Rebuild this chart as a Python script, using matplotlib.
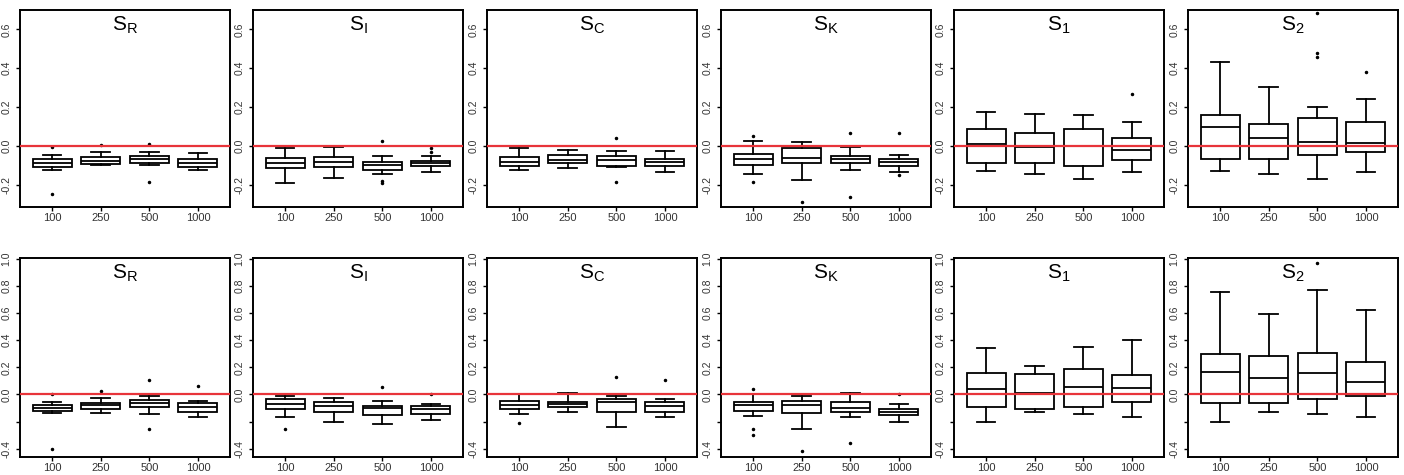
import numpy as np
import matplotlib
matplotlib.use('Agg')
import matplotlib.pyplot as plt

plt.rcParams['font.family'] = ['Liberation Sans', 'DejaVu Sans']
plt.rcParams['mathtext.fontset'] = 'custom'
plt.rcParams['mathtext.rm'] = 'Liberation Sans'
plt.rcParams['axes.unicode_minus'] = False

sizes = ['100', '250', '500', '1000']
subs = ['R', 'I', 'C', 'K', '1', '2']

# five-number summaries per sample size: whisker low, Q1, median, Q3, whisker high
top_SR = [[-0.125, -0.108, -0.088, -0.070, -0.048], [-0.100, -0.096, -0.079, -0.060, -0.031],
          [-0.101, -0.091, -0.070, -0.052, -0.033], [-0.125, -0.108, -0.088, -0.069, -0.040]]
top_SI = [[-0.194, -0.117, -0.088, -0.062, -0.014], [-0.168, -0.108, -0.082, -0.060, -0.007],
          [-0.148, -0.125, -0.100, -0.082, -0.053], [-0.134, -0.103, -0.091, -0.077, -0.053]]
top_SC = [[-0.125, -0.103, -0.082, -0.060, -0.014], [-0.117, -0.091, -0.074, -0.048, -0.022],
          [-0.108, -0.103, -0.074, -0.052, -0.027], [-0.134, -0.105, -0.086, -0.069, -0.027]]
top_SK = [[-0.146, -0.100, -0.070, -0.045, 0.024], [-0.179, -0.091, -0.065, -0.014, 0.017],
          [-0.125, -0.091, -0.070, -0.053, -0.005], [-0.137, -0.103, -0.086, -0.069, -0.048]]
top_S1 = [[-0.129, -0.088, 0.009, 0.084, 0.172], [-0.146, -0.091, -0.005, 0.067, 0.163],
          [-0.172, -0.105, 0.000, 0.084, 0.158], [-0.134, -0.074, -0.022, 0.038, 0.120]]
top_S2 = [[-0.129, -0.067, 0.095, 0.158, 0.433], [-0.146, -0.070, 0.041, 0.112, 0.304],
          [-0.172, -0.046, 0.021, 0.144, 0.201], [-0.137, -0.031, 0.012, 0.120, 0.239]]

top_SR_out = [[-0.005, -0.249], [0.002], [0.010, -0.189], []]
top_SI_out = [[], [], [0.026, -0.180, -0.190], [-0.014, -0.031]]
top_SC_out = [[], [], [0.038, -0.189], []]
top_SK_out = [[0.052, -0.186], [-0.290], [0.064, -0.266], [0.067, -0.151]]
top_S1_out = [[], [], [], [0.266]]
top_S2_out = [[], [], [0.476, 0.459, 0.686], [0.381]]

bot_SR = [[-0.136, -0.121, -0.099, -0.079, -0.059], [-0.136, -0.111, -0.079, -0.067, -0.030],
          [-0.146, -0.096, -0.067, -0.044, -0.010], [-0.170, -0.128, -0.091, -0.067, -0.049]]
bot_SI = [[-0.170, -0.109, -0.072, -0.035, -0.010], [-0.202, -0.128, -0.084, -0.054, -0.025],
          [-0.220, -0.153, -0.099, -0.084, -0.049], [-0.190, -0.141, -0.111, -0.084, -0.072]]
bot_SC = [[-0.141, -0.109, -0.079, -0.049, 0.000], [-0.133, -0.096, -0.072, -0.054, 0.007],
          [-0.244, -0.128, -0.054, -0.032, -0.010], [-0.170, -0.128, -0.084, -0.059, -0.037]]
bot_SK = [[-0.158, -0.123, -0.079, -0.059, 0.000], [-0.257, -0.136, -0.079, -0.049, -0.010],
          [-0.170, -0.128, -0.099, -0.054, 0.012], [-0.202, -0.153, -0.133, -0.104, -0.072]]
bot_S1 = [[-0.202, -0.091, 0.040, 0.160, 0.341], [-0.128, -0.104, 0.007, 0.148, 0.210],
          [-0.146, -0.096, 0.057, 0.188, 0.353], [-0.170, -0.059, 0.044, 0.143, 0.398]]
bot_S2 = [[-0.202, -0.062, 0.163, 0.296, 0.753], [-0.128, -0.062, 0.119, 0.284, 0.593],
          [-0.146, -0.032, 0.160, 0.309, 0.773], [-0.170, -0.015, 0.089, 0.240, 0.625]]

bot_SR_out = [[0.000, -0.400], [0.025], [0.106, -0.252], [0.062]]
bot_SI_out = [[-0.257], [], [0.057], [0.005]]
bot_SC_out = [[-0.210], [], [0.126], [0.106]]
bot_SK_out = [[0.037, -0.252, -0.301], [-0.417], [-0.358], [0.002]]
bot_S1_out = [[], [], [], []]
bot_S2_out = [[], [], [0.970], []]

top_rows = [(top_SR, top_SR_out), (top_SI, top_SI_out), (top_SC, top_SC_out),
            (top_SK, top_SK_out), (top_S1, top_S1_out), (top_S2, top_S2_out)]
bot_rows = [(bot_SR, bot_SR_out), (bot_SI, bot_SI_out), (bot_SC, bot_SC_out),
            (bot_SK, bot_SK_out), (bot_S1, bot_S1_out), (bot_S2, bot_S2_out)]

W, H = 1404, 475
fig = plt.figure(figsize=(W / 100, H / 100), dpi=100)
lefts = [20, 253, 487, 721, 954, 1188]
pw = 210


def panel(ax, summ, outs, sub, ylim, yticks, ylabels):
    stats = []
    for s, o, lab in zip(summ, outs, sizes):
        stats.append(dict(whislo=s[0], q1=s[1], med=s[2], q3=s[3], whishi=s[4],
                          fliers=o, label=lab))
    ax.bxp(stats, positions=[1, 2, 3, 4], widths=0.8, patch_artist=True,
           boxprops=dict(facecolor='white', edgecolor='black', linewidth=1.3),
           medianprops=dict(color='black', linewidth=1.3),
           whiskerprops=dict(color='black', linewidth=1.3),
           capprops=dict(color='black', linewidth=1.3), capwidths=0.38,
           flierprops=dict(marker='o', markersize=1.5, markerfacecolor='black',
                           markeredgecolor='black'))
    ax.axhline(0, color='#e8343a', lw=1.6, zorder=5)
    ax.set_xlim(0.34, 4.66)
    ax.set_ylim(*ylim)
    ax.set_yticks(yticks)
    ax.set_yticklabels(ylabels, rotation=90, va='center', fontsize=7.5, color='#333333')
    ax.set_xticks([1, 2, 3, 4])
    ax.set_xticklabels(sizes, fontsize=8, color='#333333')
    ax.tick_params(axis='x', length=3, width=1, pad=1)
    ax.tick_params(axis='y', length=3, width=1, pad=3)
    for sp in ax.spines.values():
        sp.set_linewidth(1.4)
    ax.text(0.5, 0.925, 'S$_{\\mathrm{' + sub + '}}$', transform=ax.transAxes,
            ha='center', va='center', fontsize=15)


for i in range(6):
    ax = fig.add_axes([lefts[i] / W, 1 - 207 / H, pw / W, 197 / H])
    summ, outs = top_rows[i]
    panel(ax, summ, outs, subs[i], (-0.316, 0.70),
          [-0.2, 0.0, 0.2, 0.4, 0.6], ['-0.2', '0.0', '0.2', '0.4', '0.6'])

    ax = fig.add_axes([lefts[i] / W, 1 - 457 / H, pw / W, 199 / H])
    summ, outs = bot_rows[i]
    panel(ax, summ, outs, subs[i], (-0.462, 1.007),
          [-0.4, -0.2, 0.0, 0.2, 0.4, 0.6, 0.8, 1.0],
          ['-0.4', '', '0.0', '0.2', '0.4', '0.6', '0.8', '1.0'])

fig.savefig('out.png', dpi=100)
